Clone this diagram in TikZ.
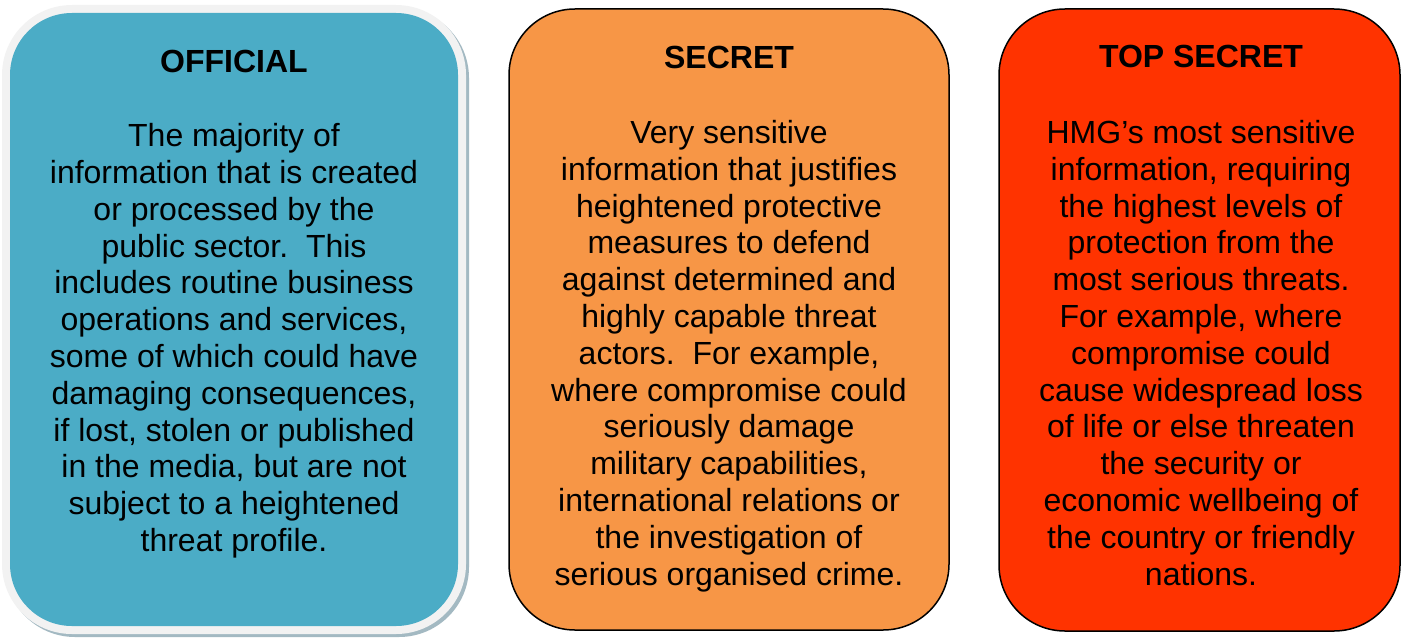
\documentclass[tikz,border=0pt]{standalone}
\usepackage{fontspec}
\setmainfont{Liberation Sans}
\begin{document}
\definecolor{offblue}{HTML}{4BACC6}
\definecolor{secorange}{HTML}{F79646}
\definecolor{tsred}{HTML}{FF3300}
\definecolor{rimgrey}{HTML}{F2F2F2}
\definecolor{rimshadow}{HTML}{A3B9C2}
\begin{tikzpicture}[x=1pt,y=-1pt,
  card/.style={draw=black,line width=1.5pt,rounded corners=66pt},
  heading/.style={anchor=base,inner sep=0pt,font=\bfseries\fontsize{32}{36.8}\selectfont},
  % base anchor of a multi-line node sits on its last line
  bodytext/.style={anchor=base,inner sep=0pt,align=center,font=\fontsize{32}{36.8}\selectfont}]
\useasboundingbox (0,0) rectangle (1404,639);

% OFFICIAL card: shadow, pale rim and blue face
\fill[rimshadow,rounded corners=70pt] (5,8) rectangle (469,637);
\fill[rimgrey,rounded corners=70pt] (2,5) rectangle (466,634);
\fill[offblue,rounded corners=62pt] (10,13) rectangle (458,626);

% SECRET and TOP SECRET cards
\path[card,fill=secorange] (509,9) rectangle (949,630);
\path[card,fill=tsred] (999,9) rectangle (1400,631);

% Headings
\node[heading] (hoff) at (234,73) {OFFICIAL};
\node[heading] (hsec) at (729,69) {SECRET};
\node[heading] (hts) at (1201,68) {TOP SECRET};

% Descriptions (positioned by the baseline of their last line)
\node[bodytext] (toff) at (234,551.5) {The majority of\\
information that is created\\
or processed by the\\
public sector.\ \ This\\
includes routine business\\
operations and services,\\
some of which could have\\
damaging consequences,\\
if lost, stolen or published\\
in the media, but are not\\
subject to a heightened\\
threat profile.};

\node[bodytext] (tsec) at (729,585) {Very sensitive\\
information that justifies\\
heightened protective\\
measures to defend\\
against determined and\\
highly capable threat\\
actors.\ \ For example,\\
where compromise could\\
seriously damage\\
military capabilities,\\
international relations or\\
the investigation of\\
serious organised crime.};

\node[bodytext] (tts) at (1201,585) {HMG’s most sensitive\\
information, requiring\\
the highest levels of\\
protection from the\\
most serious threats.\\
For example, where\\
compromise could\\
cause widespread loss\\
of life or else threaten\\
the security or\\
economic wellbeing of\\
the country or friendly\\
nations.};
\end{tikzpicture}
\end{document}
